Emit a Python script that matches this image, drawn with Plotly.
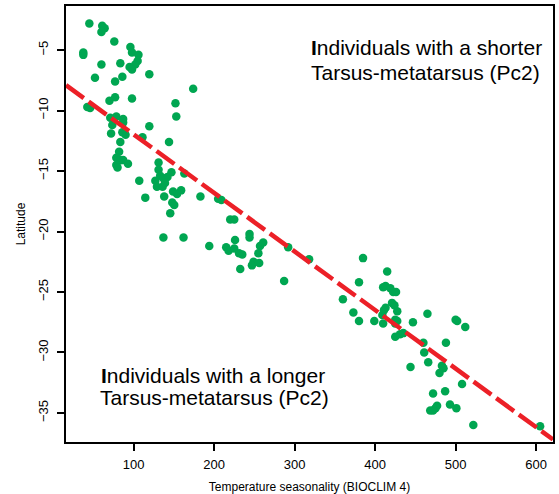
import plotly.graph_objects as go

# Temperature seasonality (BIOCLIM 4)
seasonality = [
    45, 61, 64, 60, 76, 37.5, 37.5, 60, 52, 83.5,
    96, 98, 106, 105, 102, 95, 98, 119.5, 86, 77,
    174, 77, 70, 98, 152, 153, 42.5, 46, 78.5, 71,
    87, 87, 73.5, 119.5, 72, 86, 90, 111, 83.5, 144,
    82, 78.5, 83.5, 87, 78.5, 80, 93, 131, 131, 147,
    163, 107, 127, 133, 137, 142, 129, 136, 139, 138,
    114.5, 149, 154, 159, 148, 150.5, 145.5, 183, 205, 209,
    220, 225, 244, 244, 226, 137, 162, 194, 215, 218,
    225, 231, 235, 257, 261, 255, 249, 247, 256, 232.5,
    287, 292, 318, 385, 415, 380, 360, 373, 380, 399,
    410, 413, 419, 422.5, 426, 421, 424, 427.5, 413, 411,
    409, 410, 425, 427.5, 425, 447, 465, 425, 431, 435,
    500, 502, 512, 460, 488, 461, 466, 444, 483, 485,
    480, 508, 472, 487, 477, 475, 472, 468.5, 493, 501,
    522, 605,
]

# Latitude
latitude = [
    -2.8, -3.0, -3.2, -3.5, -4.3, -5.2, -5.4, -6.2, -7.3, -6.1,
    -4.75, -5.2, -5.4, -5.9, -6.2, -6.4, -6.6, -7.0, -7.2, -7.6,
    -8.2, -8.9, -9.2, -9.0, -9.4, -10.5, -9.7, -9.8, -10.5, -10.6,
    -10.7, -11.0, -11.2, -11.3, -11.9, -11.8, -12.0, -12.2, -12.6, -12.6,
    -13.4, -13.9, -14.1, -14.1, -14.5, -14.7, -14.4, -14.3, -14.9, -15.1,
    -15.2, -15.8, -15.8, -15.4, -15.6, -15.5, -16.3, -16.3, -16.0, -17.1,
    -17.2, -16.7, -16.9, -16.6, -17.6, -17.8, -18.5, -17.1, -17.3, -17.4,
    -19.0, -19.0, -20.2, -20.5, -20.7, -20.5, -20.5, -21.2, -21.3, -21.6,
    -21.4, -21.8, -21.9, -21.2, -20.9, -21.8, -22.5, -22.8, -22.6, -23.1,
    -24.1, -21.3, -22.3, -22.2, -23.3, -24.2, -25.6, -26.7, -27.4, -27.4,
    -24.6, -24.5, -24.7, -25.0, -25.0, -25.9, -26.1, -26.6, -26.3, -26.5,
    -26.9, -27.6, -27.3, -27.4, -27.6, -27.5, -26.8, -28.7, -28.5, -28.4,
    -27.3, -27.4, -27.9, -29.2, -29.2, -30.0, -30.8, -31.2, -31.1, -31.3,
    -31.7, -32.6, -33.4, -33.2, -34.4, -34.6, -34.8, -34.8, -34.3, -34.6,
    -36.0, -36.1,
]

# Regression line
fit_intercept = -7.13
fit_slope = -0.0484

x_range = [16, 621]
y_range = [-37.4, -1.36]
x_ticks = [100, 200, 300, 400, 500, 600]
y_ticks = [-5, -10, -15, -20, -25, -30, -35]

upper_lines = ["<b>I</b>ndividuals with a shorter", "Tarsus-metatarsus (Pc2)"]
lower_lines = ["<b>I</b>ndividuals with a longer", "Tarsus-metatarsus (Pc2)"]

green = "rgb(0,166,81)"
red = "rgb(236,32,39)"
font_family = "Liberation Sans, Arial, sans-serif"

fig = go.Figure()

fig.add_trace(go.Scatter(
    x=seasonality, y=latitude, mode="markers",
    marker=dict(color=green, size=8.5, line=dict(width=0)),
    showlegend=False, hoverinfo="skip",
))

fit_x = x_range
fit_y = [fit_intercept + fit_slope * v for v in fit_x]
fig.add_trace(go.Scatter(
    x=fit_x, y=fit_y, mode="lines",
    line=dict(color=red, width=4.5, dash="22px,6px"),
    showlegend=False, hoverinfo="skip",
))

note_font = dict(family=font_family, size=21, color="black")
for txt, (ax, ay) in zip(upper_lines, [(0.741, 0.904), (0.738, 0.847)]):
    fig.add_annotation(x=ax, y=ay, xref="paper", yref="paper", text=txt,
                       showarrow=False, xanchor="center", yanchor="middle",
                       font=note_font)
for txt, (ax, ay) in zip(lower_lines, [(0.302, 0.152), (0.304, 0.101)]):
    fig.add_annotation(x=ax, y=ay, xref="paper", yref="paper", text=txt,
                       showarrow=False, xanchor="center", yanchor="middle",
                       font=note_font)

fig.update_layout(
    width=559, height=494,
    margin=dict(l=66, r=6, t=6, b=52),
    paper_bgcolor="white", plot_bgcolor="white",
    font=dict(family=font_family, color="black"),
)

fig.update_xaxes(
    range=x_range, tickvals=x_ticks, ticks="outside", ticklen=7, tickwidth=2,
    tickcolor="black", showgrid=False, zeroline=False,
    showline=True, linecolor="black", linewidth=2, mirror=True,
    ticklabelstandoff=2, automargin=False,
    tickfont=dict(size=13, family=font_family),
    title=dict(text="Temperature seasonality (BIOCLIM 4)",
               font=dict(size=12, family=font_family), standoff=13),
)
fig.update_yaxes(
    range=y_range, tickvals=y_ticks, ticks="outside", ticklen=7, tickwidth=2,
    tickcolor="black", showgrid=False, zeroline=False,
    showline=True, linecolor="black", linewidth=2, mirror=True,
    tickangle=-90, ticklabelstandoff=4, automargin=False,
    tickfont=dict(size=13, family=font_family),
    title=dict(text="Latitude", font=dict(size=12, family=font_family), standoff=8),
)

fig.write_html("out.html")
